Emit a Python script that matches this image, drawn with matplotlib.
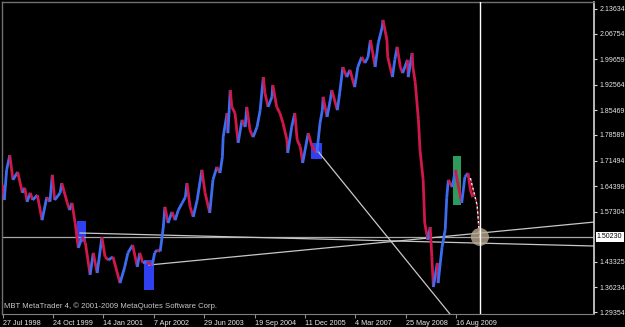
import matplotlib
matplotlib.use('Agg')
import matplotlib.pyplot as plt
from matplotlib.collections import LineCollection
from matplotlib.patches import Rectangle, Ellipse
import matplotlib.transforms as mtrans

plt.rcParams['font.family'] = ['Liberation Sans', 'DejaVu Sans']

# ---- data (week index since 27 Jul 1998, price) ----
weeks = [0, 2, 5, 9, 13, 19, 25, 28, 31, 35, 38, 44, 50, 56, 60, 63, 66, 73, 75, 82,
         85, 88, 92, 96, 101, 105, 111, 115, 120, 126, 130, 134, 140, 149, 155, 159, 165, 171, 174, 178,
         183, 190, 193, 196, 200, 204, 206, 210, 215, 219, 223, 228, 232, 234, 238, 242, 247, 253, 257, 263,
         267, 272, 276, 279, 280, 285, 286, 289, 291, 295, 299, 304, 308, 310, 314, 318, 323, 327, 331, 333,
         337, 342, 343, 348, 352, 356, 361, 362, 367, 371, 374, 378, 381, 388, 393, 399, 403, 406, 407, 412,
         416, 418, 425, 428, 432, 437, 441, 447, 451, 456, 460, 464, 467, 470, 473, 477, 482, 483, 488, 489,
         495, 498, 501, 505, 508, 514, 515, 520, 521, 524, 528, 530, 534, 536, 540, 543, 545, 547, 552, 553,
         558, 562, 564, 566, 571, 575, 578, 583, 587, 591, 594, 597]
closes = [1.647, 1.605, 1.689, 1.730, 1.661, 1.683, 1.625, 1.639, 1.600, 1.625, 1.605, 1.619, 1.549, 1.613, 1.600, 1.675, 1.605, 1.625, 1.652, 1.597,
          1.577, 1.597, 1.541, 1.472, 1.502, 1.486, 1.397, 1.458, 1.402, 1.502, 1.447, 1.438, 1.447, 1.374, 1.419, 1.458, 1.480, 1.419, 1.458, 1.430,
          1.433, 1.424, 1.458, 1.466, 1.462, 1.530, 1.586, 1.541, 1.572, 1.549, 1.577, 1.597, 1.613, 1.652, 1.586, 1.558, 1.605, 1.689, 1.625, 1.569,
          1.661, 1.697, 1.680, 1.725, 1.780, 1.847, 1.791, 1.911, 1.864, 1.847, 1.764, 1.828, 1.808, 1.864, 1.800, 1.780, 1.808, 1.855, 1.947, 1.903,
          1.864, 1.892, 1.925, 1.864, 1.847, 1.819, 1.772, 1.736, 1.808, 1.847, 1.772, 1.753, 1.708, 1.791, 1.753, 1.736, 1.819, 1.855, 1.892, 1.836,
          1.883, 1.911, 1.855, 1.903, 1.975, 1.947, 1.967, 1.919, 1.975, 2.003, 1.986, 2.003, 2.050, 2.014, 1.975, 2.042, 2.086, 2.106, 2.050, 2.003,
          1.947, 1.995, 2.031, 1.975, 1.958, 1.995, 1.947, 2.014, 1.975, 1.931, 1.828, 1.744, 1.661, 1.541, 1.494, 1.530, 1.447, 1.363, 1.430, 1.374,
          1.474, 1.522, 1.613, 1.661, 1.641, 1.689, 1.652, 1.597, 1.669, 1.680, 1.633, 1.613]

proj_weeks = [594, 602.5, 606.1]
proj_prices = [1.666, 1.591, 1.494]

date_ticks = [0, 64, 128, 192, 256, 320, 384, 448, 512, 576]
date_labels = ['27 Jul 1998', '24 Oct 1999', '14 Jan 2001', '7 Apr 2002', '29 Jun 2003',
               '19 Sep 2004', '11 Dec 2005', '4 Mar 2007', '25 May 2008', '16 Aug 2009']
price_ticks = [2.13634, 2.06754, 1.99659, 1.92564, 1.85469, 1.78589, 1.71494,
               1.64399, 1.57304, 1.43325, 1.36234, 1.29354]
price_labels = ['2.13634', '2.06754', '1.99659', '1.92564', '1.85469', '1.78589', '1.71494',
                '1.64399', '1.57304', '1.43325', '1.36234', '1.29354']
current_price = 1.50230
current_label = '1.50230'
cursor_week = 606.1

# boxes: (week0, week1, price_low, price_high, colour)
boxes = [(94.4, 105.8, 1.488, 1.547, '#2f40f0'),
         (179.4, 192.2, 1.355, 1.438, '#2f40f0'),
         (391.5, 405.5, 1.719, 1.764, '#2f40f0'),
         (571.8, 582.0, 1.591, 1.7275, '#2e9a5c')]
# trend lines: (w0, p0, w1, p1)
trendlines = [(98.2, 1.5133, 751, 1.4771),
              (185.8, 1.4243, 752, 1.5439),
              (399, 1.7442, 568, 1.288)]

BG = '#000000'
fig = plt.figure(figsize=(6.25, 3.27), dpi=100, facecolor=BG)
ax = fig.add_axes([2 / 625, 13 / 327, 592 / 625, 312 / 327])
ax.set_facecolor(BG)
ax.set_xlim(-0.9, 751)
ax.set_ylim(1.2880, 2.1558)

# boxes under price
for w0, w1, lo, hi, c in boxes:
    ax.add_patch(Rectangle((w0, lo), w1 - w0, hi - lo, facecolor=c, edgecolor='none', zorder=1))

# price bars as coloured zigzag
segs, cols = [], []
for i in range(1, len(weeks)):
    segs.append([(weeks[i - 1], closes[i - 1]), (weeks[i], closes[i])])
    cols.append('#3c6cf0' if closes[i] >= closes[i - 1] else '#d0184a')
ax.add_collection(LineCollection(segs, colors=cols, linewidths=2.0, zorder=3))

# projection
ax.plot(proj_weeks, proj_prices, color='white', lw=1.0, ls=(0, (2, 1.5)), zorder=4)
ax.plot(proj_weeks, proj_prices, color='#e02040', lw=1.0, ls=(2, (1.5, 2)), zorder=4)

# horizontal cross line and trend lines
ax.axhline(current_price, color='#a8a8a8', lw=0.9, zorder=2)
for w0, p0, w1, p1 in trendlines:
    ax.plot([w0, w1], [p0, p1], color='#c8c8c8', lw=0.9, zorder=2)
ax.axvline(cursor_week, color='white', lw=1.0, zorder=5)
ax.add_patch(Ellipse((cursor_week, current_price), 23, 0.05, facecolor='#b8a890',
                     edgecolor='none', alpha=0.8, zorder=4))

# axes styling
for s in ['top', 'left']:
    ax.spines[s].set_color('#707070')
    ax.spines[s].set_linewidth(1.0)
ax.spines['top'].set_linestyle((0, (3, 1)))
ax.spines['bottom'].set_color('#808080')
ax.spines['right'].set_color('#d8d8d8')
ax.spines['right'].set_linewidth(1.2)

ax.set_xticks(date_ticks)
ax.set_xticklabels(date_labels)
ax.yaxis.tick_right()
ax.set_yticks(price_ticks)
ax.set_yticklabels(price_labels)
ax.tick_params(axis='x', colors='#909090', labelcolor='#e8e8e8', length=3, width=0.8,
               labelsize=5.2, pad=1)
ax.tick_params(axis='y', colors='#d8d8d8', labelcolor='#e8e8e8', length=2.5, width=0.8,
               labelsize=5.0, pad=1.2)
for t in ax.get_xticklabels():
    t.set_horizontalalignment('left')

trans = mtrans.blended_transform_factory(ax.transAxes, ax.transData)
ax.text(1.005, current_price, current_label, transform=trans, fontsize=5.0, color='black',
        va='center', ha='left', clip_on=False,
        bbox=dict(boxstyle='square,pad=0.2', facecolor='white', edgecolor='none'))

ax.text(0.004, 0.025, 'MBT MetaTrader 4, \u00a9 2001-2009 MetaQuotes Software Corp.',
        transform=ax.transAxes, fontsize=5.6, color='#c8c8c8', ha='left', va='center')

fig.savefig('out.png', dpi=100, facecolor=BG)
